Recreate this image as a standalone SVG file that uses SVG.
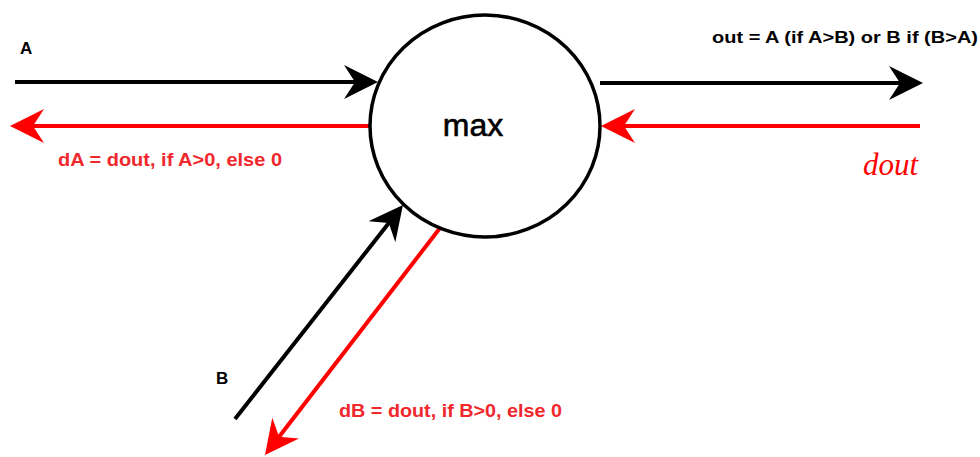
<svg xmlns="http://www.w3.org/2000/svg" width="980" height="457" viewBox="0 0 980 457">
<style>
.blk{stroke:#000;stroke-width:4;fill:none}
.red{stroke:#ff0000;stroke-width:4;fill:none}
.lbl{font-family:"Liberation Sans",Arial,sans-serif;font-weight:bold;font-size:17px;fill:#000}
.rlbl{font-family:"Liberation Sans",Arial,sans-serif;font-weight:bold;font-size:18px;fill:#f0282d}
</style>
<defs>
<marker id="ab" viewBox="0 0 34 34" refX="14" refY="17" markerWidth="34" markerHeight="34" markerUnits="userSpaceOnUse" orient="auto">
<path d="M0,0 L34,17 L0,34 L11,17 Z" fill="#000"/>
</marker>
<marker id="ar" viewBox="0 0 34 34" refX="14" refY="17" markerWidth="34" markerHeight="34" markerUnits="userSpaceOnUse" orient="auto">
<path d="M0,0 L34,17 L0,34 L11,17 Z" fill="#ff0000"/>
</marker>
</defs>
<rect width="980" height="457" fill="#fff"/>
<g id="connectors">
<line class="blk" x1="15" y1="82" x2="358" y2="82" marker-end="url(#ab)"/>
<line class="red" x1="370" y1="126" x2="30" y2="126" marker-end="url(#ar)"/>
<line class="blk" x1="600" y1="83" x2="903" y2="83" marker-end="url(#ab)"/>
<line class="red" x1="920" y1="126" x2="621" y2="126" marker-end="url(#ar)"/>
<line class="blk" x1="235" y1="419" x2="390.6" y2="220.7" marker-end="url(#ab)"/>
<line class="red" x1="440" y1="228" x2="277.2" y2="439.2" marker-end="url(#ar)"/>
</g>
<g id="max">
<ellipse cx="485" cy="126" rx="115" ry="111" fill="#fff" stroke="#000" stroke-width="3.5"/>
<text x="473" y="136" text-anchor="middle" font-family="Liberation Sans,Arial,sans-serif" font-size="32" fill="#000" stroke="#000" stroke-width="0.6">max</text>
</g>
<g id="labels">
<text class="lbl" x="20" y="54" font-size="15">A</text>
<text class="lbl" x="216" y="384" font-size="15">B</text>
<text class="lbl" x="712" y="43" textLength="266" lengthAdjust="spacingAndGlyphs">out = A (if A&gt;B) or B if (B&gt;A)</text>
<text class="rlbl" x="58" y="166" textLength="224" lengthAdjust="spacingAndGlyphs">dA = dout, if A&gt;0, else 0</text>
<text class="rlbl" x="339" y="417" textLength="223" lengthAdjust="spacingAndGlyphs">dB = dout, if B&gt;0, else 0</text>
<text x="918" y="175" text-anchor="end" font-family="Liberation Serif,'Times New Roman',serif" font-style="italic" font-size="31" fill="#ff0000">dout</text>
</g>
</svg>
